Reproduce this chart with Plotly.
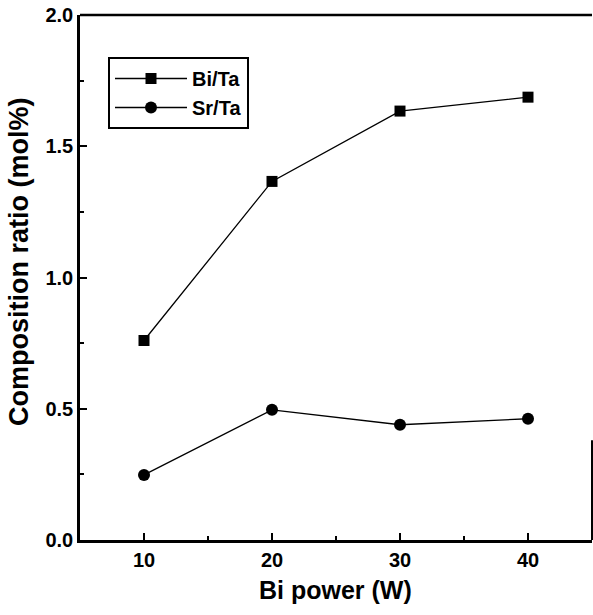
import plotly.graph_objects as go

power = [10, 20, 30, 40]
bi_ta = [0.76, 1.366, 1.634, 1.687]
sr_ta = [0.248, 0.496, 0.439, 0.462]

x_ticks = [10, 20, 30, 40]
y_ticks = [0.0, 0.5, 1.0, 1.5, 2.0]
y_labels = ["0.0", "0.5", "1.0", "1.5", "2.0"]

FONT = "Liberation Sans, Arial, sans-serif"
W, H = 593, 615

fig = go.Figure()
fig.add_trace(go.Scatter(
    x=power, y=bi_ta, name="Bi/Ta", mode="lines+markers",
    line=dict(color="black", width=1.3),
    marker=dict(symbol="square", size=11, color="black"),
))
fig.add_trace(go.Scatter(
    x=power, y=sr_ta, name="Sr/Ta", mode="lines+markers",
    line=dict(color="black", width=1.3),
    marker=dict(symbol="circle", size=12, color="black"),
))

fig.update_layout(
    width=W, height=H,
    margin=dict(l=80, r=1, t=15, b=75, autoexpand=False),
    paper_bgcolor="white", plot_bgcolor="white",
    font=dict(family=FONT, size=20, color="black"),
    showlegend=True,
    legend=dict(
        x=(108 - 80) / 512, y=(540 - 57) / 525, xanchor="left", yanchor="top",
        bordercolor="black", borderwidth=2, bgcolor="white",
        font=dict(size=20, family=FONT, color="black", weight="bold"),
        tracegroupgap=2, itemwidth=72,
    ),
)
fig.update_xaxes(
    range=[5, 45], tickvals=x_ticks, ticks="inside", ticklen=7, tickwidth=2,
    tickcolor="black", showline=True, linewidth=2.5, linecolor="black",
    mirror=False, showgrid=False, zeroline=False, automargin=False,
    minor=dict(tickvals=[15, 25, 35], ticks="inside", ticklen=4, tickwidth=1.5, tickcolor="black"),
    tickfont=dict(size=20, family=FONT, weight="bold"),
)
fig.update_yaxes(
    range=[0, 2.0], tickvals=y_ticks, ticktext=y_labels, ticks="inside", ticklen=7, tickwidth=2,
    tickcolor="black", showline=True, linewidth=2.5, linecolor="black",
    mirror=False, showgrid=False, zeroline=False, automargin=False,
    minor=dict(tickvals=[0.25, 0.75, 1.25, 1.75], ticks="inside", ticklen=4, tickwidth=1.5, tickcolor="black"),
    tickfont=dict(size=20, family=FONT, weight="bold"),
)
# axis titles
fig.add_annotation(text="<b>Bi power (W)</b>", xref="paper", yref="paper",
                   x=(335 - 80) / 512, y=-(590 - 540) / 525, xanchor="center", yanchor="middle",
                   showarrow=False, font=dict(size=25, family=FONT, color="black"))
fig.add_annotation(text="<b>Composition ratio (mol%)</b>", xref="paper", yref="paper",
                   x=-(80 - 19) / 512, y=(540 - 262) / 525, xanchor="center", yanchor="middle",
                   textangle=-90, showarrow=False, font=dict(size=27, family=FONT, color="black"))
# top frame line and partial right frame line
fig.add_shape(type="line", xref="paper", yref="paper", x0=0, x1=1, y0=1, y1=1,
              line=dict(color="black", width=2.5))
fig.add_shape(type="line", xref="paper", yref="paper", x0=1, x1=1, y0=0, y1=0.19,
              line=dict(color="black", width=2))

post = ("var gd=document.getElementById('{plot_id}');"
        "document.body.style.margin='0';document.body.style.overflow='hidden';"
        "Plotly.relayout(gd,{width:%d,height:%d});" % (W, H))
fig.write_html("out.html", config={"responsive": False, "displayModeBar": False},
               post_script=post)
